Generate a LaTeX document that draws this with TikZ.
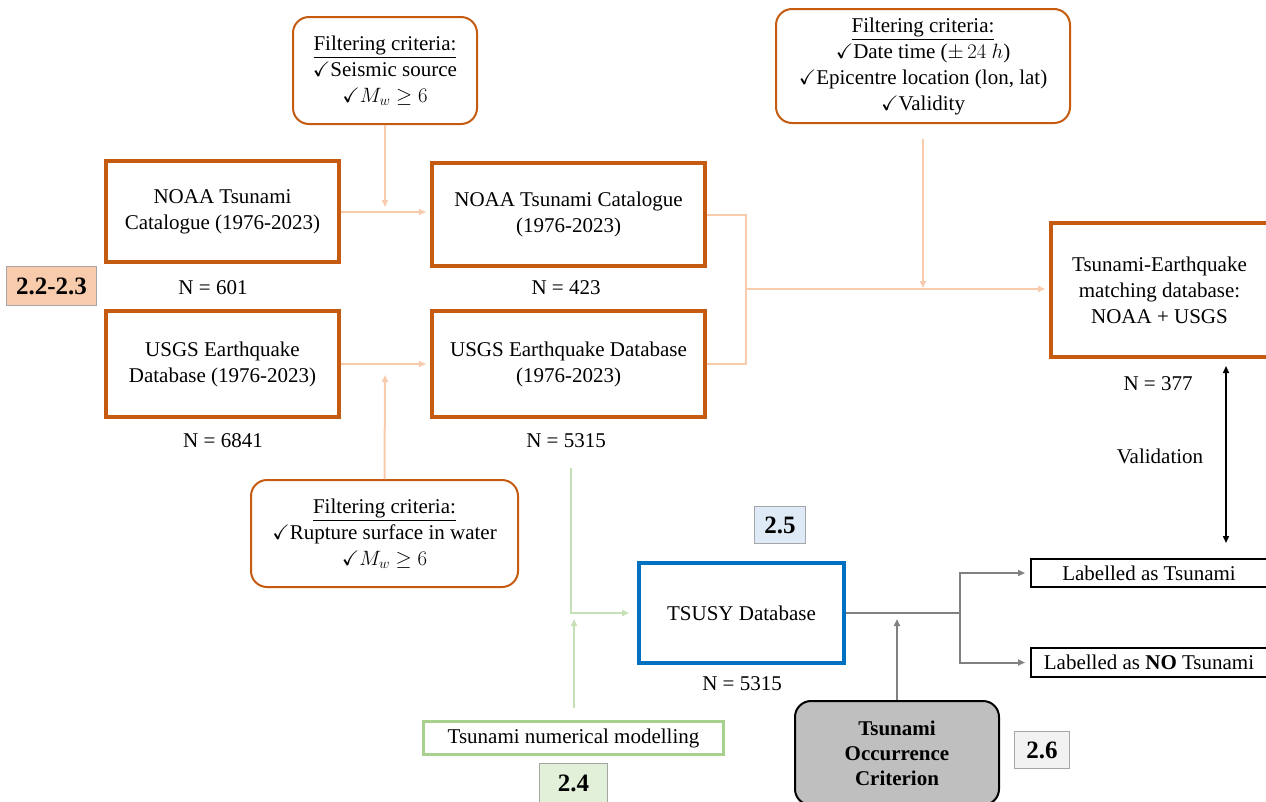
\documentclass[tikz,border=0pt]{standalone}
\usepackage{amssymb}
\usepackage{fontspec}
\setmainfont{Liberation Serif}
\usetikzlibrary{arrows.meta}
\definecolor{boxorange}{HTML}{C55A11}
\definecolor{peach}{HTML}{F8CBAD}
\definecolor{peachfill}{HTML}{F8CBAD}
\definecolor{greenline}{HTML}{C5E0B4}
\definecolor{greenbox}{HTML}{A9D18E}
\definecolor{greenfill}{HTML}{E2F0D9}
\definecolor{bluefill}{HTML}{DEEBF7}
\definecolor{greyfill}{HTML}{F2F2F2}
\definecolor{secgray}{HTML}{A6A6A6}
\definecolor{tsublue}{HTML}{0070C0}
\definecolor{occfill}{HTML}{BFBFBF}
\definecolor{linegray}{HTML}{808080}
\tikzset{
  base/.style={align=center, inner sep=0pt, font=\fontsize{21}{26}\selectfont},
  obox/.style={base, draw=boxorange, line width=4pt},
  crit/.style={base, draw=boxorange, line width=2pt, rounded corners=16pt},
  sect/.style={base, draw=secgray, line width=1.5pt, font=\fontsize{25}{28}\selectfont\bfseries},
  lbox/.style={base, draw=black, line width=2pt},
  txt/.style={base},
  pline/.style={draw=peach, line width=2pt},
  parr/.style={pline, -{Triangle[length=7pt,width=6pt]}},
  gline/.style={draw=greenline, line width=2pt},
  garr/.style={gline, -{Triangle[length=7pt,width=6pt]}},
  kline/.style={draw=linegray, line width=2pt},
  karr/.style={kline, -{Triangle[length=7pt,width=6pt]}},
  barr/.style={draw=black, line width=1.5pt, {Triangle[length=7pt,width=6pt]}-{Triangle[length=7pt,width=6pt]}}
}
\begin{document}
\begin{tikzpicture}[x=1pt,y=-1pt]
\useasboundingbox (0,0) rectangle (1266,801);
% filter boxes
\node[crit, minimum width=184pt, minimum height=107pt] (f1) at (385,70.5)
  {\underline{Filtering criteria:}\\$\checkmark$Seismic source\\$\checkmark M_w \geq 6$};
\node[crit, minimum width=267pt, minimum height=107pt] (f2) at (384.5,533.5)
  {\underline{Filtering criteria:}\\$\checkmark$Rupture surface in water\\$\checkmark M_w \geq 6$};
\node[crit, minimum width=294pt, minimum height=114pt] (f3) at (923,66)
  {\underline{Filtering criteria:}\\$\checkmark$Date time ($\pm\,24\ h$)\\$\checkmark$Epicentre location (lon, lat)\\$\checkmark$Validity};
% main boxes
\node[obox, minimum width=233pt, minimum height=101pt] (noaa1) at (222.5,211.5) {NOAA Tsunami\\Catalogue (1976-2023)};
\node[obox, minimum width=233pt, minimum height=106pt] (usgs1) at (222.5,364) {USGS Earthquake\\Database (1976-2023)};
\node[obox, minimum width=273pt, minimum height=103pt] (noaa2) at (568.5,214.5) {NOAA Tsunami Catalogue\\(1976-2023)};
\node[obox, minimum width=273pt, minimum height=106pt] (usgs2) at (568.5,364) {USGS Earthquake Database\\(1976-2023)};
\node[obox, minimum width=217pt, minimum height=134pt] (match) at (1159.5,290) {Tsunami-Earthquake\\matching database:\\NOAA + USGS};
\node[base, draw=tsublue, line width=4pt, minimum width=205pt, minimum height=100pt] (tsusy) at (741.5,613) {TSUSY Database};
\node[lbox, minimum width=236pt, minimum height=28pt] (lab1) at (1149,573) {Labelled as Tsunami};
\node[lbox, minimum width=236pt, minimum height=29pt] (lab2) at (1149,662.5) {Labelled as \textbf{NO} Tsunami};
\node[base, draw=greenbox, line width=3pt, minimum width=300pt, minimum height=33pt] (model) at (573.5,738) {Tsunami numerical modelling};
\node[base, draw=black, fill=occfill, line width=2pt, rounded corners=16pt, minimum width=204pt, minimum height=104pt,
      font=\fontsize{21}{25}\selectfont\bfseries] (occ) at (897,753) {Tsunami\\Occurrence\\Criterion};
% section labels
\node[sect, fill=peachfill, minimum width=90pt, minimum height=39pt] (s22) at (51.5,286) {2.2-2.3};
\node[sect, fill=bluefill, minimum width=51pt, minimum height=37pt] (s25) at (780,525) {2.5};
\node[sect, fill=greenfill, minimum width=68pt, minimum height=39pt] (s24) at (573.5,783) {2.4};
\node[sect, fill=greyfill, minimum width=55pt, minimum height=37pt] (s26) at (1042,750) {2.6};
% counts
\node[txt] (n601) at (213,288) {N = 601};
\node[txt] (n423) at (566,288) {N = 423};
\node[txt] (n6841) at (223,441) {N = 6841};
\node[txt] (n5315a) at (566,441) {N = 5315};
\node[txt] (n377) at (1158,384) {N = 377};
\node[txt] (n5315b) at (742,684) {N = 5315};
\node[txt] (valid) at (1160,456) {Validation};
% coordinates
\coordinate (j1) at (385,207);
\coordinate (j2) at (385,375);
\coordinate (b1) at (746,214.5);
\coordinate (b2) at (746,364);
\coordinate (bm) at (746,289);
\coordinate (f3s) at (923,139);
\coordinate (j3) at (923,288);
\coordinate (g1) at (571,468);
\coordinate (g2) at (574,619);
\coordinate (k) at (960,613);
\coordinate (k2) at (897,619);
\coordinate (v1) at (1226,366);
\coordinate (v2) at (1226,543);
% peach connectors
\draw[parr] (f1.south) -- (j1);
\draw[parr, shorten >=4pt] (noaa1.east |- 0,212) -- (noaa2.west |- 0,212);
\draw[parr, shorten >=4pt] (usgs1.east) -- (usgs2.west);
\draw[parr] (f2.north) -- (j2);
\draw[pline] (noaa2.east) -- (b1) -- (b2) -- (usgs2.east);
\draw[parr, shorten >=4pt] (bm) -- (match.west |- bm);
\draw[parr] (f3s) -- (j3);
% green connectors
\draw[garr, shorten >=8pt] (g1) |- (tsusy.west);
\draw[garr, shorten <=12pt] (model.north -| g2) -- (g2);
% gray connectors
\draw[kline] (tsusy.east) -- (k);
\draw[karr, shorten >=5pt] (k) |- (lab1.west);
\draw[karr, shorten >=5pt] (k) |- (lab2.west);
\draw[karr] (occ.north) -- (k2);
% validation arrow
\draw[barr] (v1) -- (v2);
\end{tikzpicture}
\end{document}
